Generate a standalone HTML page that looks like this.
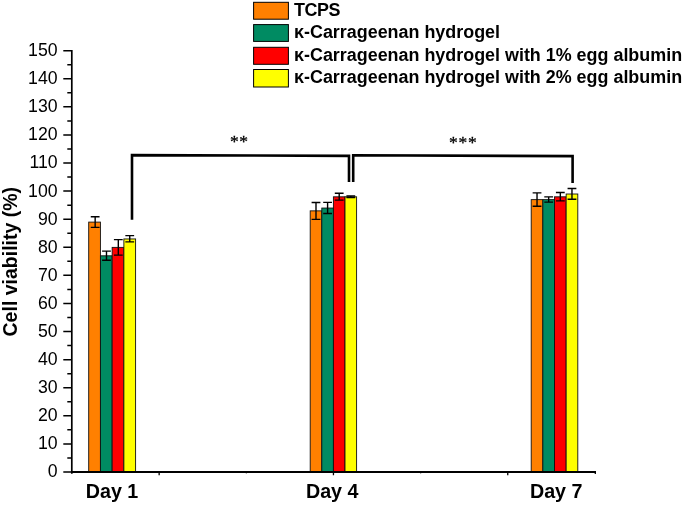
<!DOCTYPE html>
<html><head><meta charset="utf-8"><title>Cell viability</title>
<style>
html,body{margin:0;padding:0;background:#fff;}
body{width:685px;height:505px;overflow:hidden;}
svg{display:block;will-change:transform;}
text{font-family:"Liberation Sans",sans-serif;fill:#000;}
.b{font-weight:bold;}
.st{font-family:"Liberation Serif",serif;}
</style></head><body>
<svg width="685" height="505" viewBox="0 0 685 505">
<rect width="685" height="505" fill="#fff"/>
<rect x="88.70" y="222.10" width="11.72" height="249.90" fill="#FF8000" stroke="#111" stroke-width="0.9"/>
<rect x="100.42" y="255.81" width="11.72" height="216.19" fill="#008B62" stroke="#111" stroke-width="0.9"/>
<rect x="112.15" y="247.38" width="11.72" height="224.62" fill="#FF0000" stroke="#111" stroke-width="0.9"/>
<rect x="123.88" y="238.95" width="11.72" height="233.05" fill="#FFFF00" stroke="#111" stroke-width="0.9"/>
<path d="M90.76 216.82H99.56M90.76 227.38H99.56M95.16 216.82V227.38" stroke="#000" stroke-width="1.4" fill="none"/>
<path d="M102.09 251.10H110.89M102.09 260.31H110.89M106.49 251.10V260.31" stroke="#000" stroke-width="1.4" fill="none"/>
<path d="M113.91 239.63H122.71M113.91 255.13H122.71M118.31 239.63V255.13" stroke="#000" stroke-width="1.4" fill="none"/>
<path d="M125.34 235.66H134.14M125.34 241.84H134.14M129.74 235.66V241.84" stroke="#000" stroke-width="1.4" fill="none"/>
<rect x="310.20" y="210.86" width="11.60" height="261.14" fill="#FF8000" stroke="#111" stroke-width="0.9"/>
<rect x="321.80" y="208.05" width="11.60" height="263.95" fill="#008B62" stroke="#111" stroke-width="0.9"/>
<rect x="333.40" y="196.82" width="11.60" height="275.18" fill="#FF0000" stroke="#111" stroke-width="0.9"/>
<rect x="345.00" y="196.82" width="11.60" height="275.18" fill="#FFFF00" stroke="#111" stroke-width="0.9"/>
<path d="M311.60 202.49H320.40M311.60 219.34H320.40M316.00 202.49V219.34" stroke="#000" stroke-width="1.4" fill="none"/>
<path d="M323.20 202.34H332.00M323.20 213.57H332.00M327.60 202.34V213.57" stroke="#000" stroke-width="1.4" fill="none"/>
<path d="M334.80 193.29H343.60M334.80 200.14H343.60M339.20 193.29V200.14" stroke="#000" stroke-width="1.4" fill="none"/>
<path d="M346.40 195.88H355.20M346.40 197.56H355.20M350.80 195.88V197.56" stroke="#000" stroke-width="1.4" fill="none"/>
<rect x="531.20" y="199.63" width="11.65" height="272.37" fill="#FF8000" stroke="#111" stroke-width="0.9"/>
<rect x="542.85" y="199.63" width="11.65" height="272.37" fill="#008B62" stroke="#111" stroke-width="0.9"/>
<rect x="554.50" y="196.82" width="11.65" height="275.18" fill="#FF0000" stroke="#111" stroke-width="0.9"/>
<rect x="566.15" y="194.01" width="11.65" height="277.99" fill="#FFFF00" stroke="#111" stroke-width="0.9"/>
<path d="M532.63 192.87H541.43M532.63 206.18H541.43M537.03 192.87V206.18" stroke="#000" stroke-width="1.4" fill="none"/>
<path d="M544.27 196.89H553.07M544.27 202.17H553.07M548.67 196.89V202.17" stroke="#000" stroke-width="1.4" fill="none"/>
<path d="M555.93 192.56H564.73M555.93 200.88H564.73M560.33 192.56V200.88" stroke="#000" stroke-width="1.4" fill="none"/>
<path d="M567.57 188.52H576.37M567.57 199.30H576.37M571.97 188.52V199.30" stroke="#000" stroke-width="1.4" fill="none"/>
<path d="M71.8 50V473.7" stroke="#000" stroke-width="1.7" fill="none"/>
<path d="M70.95 472.0H596" stroke="#000" stroke-width="1.9" fill="none"/>
<path d="M63.30 472.00H71.8M67.30 457.95H71.8M63.30 443.91H71.8M67.30 429.87H71.8M63.30 415.82H71.8M67.30 401.77H71.8M63.30 387.73H71.8M67.30 373.69H71.8M63.30 359.64H71.8M67.30 345.60H71.8M63.30 331.55H71.8M67.30 317.50H71.8M63.30 303.46H71.8M67.30 289.41H71.8M63.30 275.37H71.8M67.30 261.32H71.8M63.30 247.28H71.8M67.30 233.23H71.8M63.30 219.19H71.8M67.30 205.14H71.8M63.30 191.10H71.8M67.30 177.06H71.8M63.30 163.01H71.8M67.30 148.96H71.8M63.30 134.92H71.8M67.30 120.88H71.8M63.30 106.83H71.8M67.30 92.78H71.8M63.30 78.74H71.8M67.30 64.69H71.8M63.30 50.65H71.8" stroke="#000" stroke-width="1.5" fill="none"/>
<text x="57.6" y="477.00" font-size="17.7" text-anchor="end">0</text>
<text x="57.6" y="448.97" font-size="17.7" text-anchor="end">10</text>
<text x="57.6" y="420.94" font-size="17.7" text-anchor="end">20</text>
<text x="57.6" y="392.92" font-size="17.7" text-anchor="end">30</text>
<text x="57.6" y="364.89" font-size="17.7" text-anchor="end">40</text>
<text x="57.6" y="336.86" font-size="17.7" text-anchor="end">50</text>
<text x="57.6" y="308.83" font-size="17.7" text-anchor="end">60</text>
<text x="57.6" y="280.81" font-size="17.7" text-anchor="end">70</text>
<text x="57.6" y="252.78" font-size="17.7" text-anchor="end">80</text>
<text x="57.6" y="224.66" font-size="17.7" text-anchor="end">90</text>
<text x="57.6" y="196.54" font-size="17.7" text-anchor="end">100</text>
<text x="57.6" y="168.42" font-size="17.7" text-anchor="end">110</text>
<text x="57.6" y="140.31" font-size="17.7" text-anchor="end">120</text>
<text x="57.6" y="112.19" font-size="17.7" text-anchor="end">130</text>
<text x="57.6" y="84.07" font-size="17.7" text-anchor="end">140</text>
<text x="57.6" y="55.95" font-size="17.7" text-anchor="end">150</text>
<path d="M159.15 472.0v3.3M333.45 472.0v3.3M507.75 472.0v3.3M595.30 472.0v2.0" stroke="#000" stroke-width="1.3" fill="none"/>
<path d="M246.3 472.0v1.7M420.7 472.0v1.7" stroke="#000" stroke-width="1" opacity="0.55" fill="none"/>
<text class="b" x="112.0" y="497.7" font-size="19.7" text-anchor="middle">Day 1</text>
<text class="b" x="332.2" y="497.7" font-size="19.7" text-anchor="middle">Day 4</text>
<text class="b" x="556.2" y="497.7" font-size="19.7" text-anchor="middle">Day 7</text>
<text class="b" transform="translate(17.4 261.7) rotate(-90)" font-size="19.5" text-anchor="middle">Cell viability (%)</text>
<path d="M132 219.8V155.1L349 155.9V182.1" stroke="#000" stroke-width="2.6" fill="none"/>
<path d="M353.2 182.1V155.3L572.6 156.1V183" stroke="#000" stroke-width="2.6" fill="none"/>
<text class="st" x="230.0" y="147.0" font-size="17.5" letter-spacing="0.55" stroke="#000" stroke-width="0.3">**</text>
<text class="st" x="449.1" y="147.7" font-size="17.5" letter-spacing="0.75" stroke="#000" stroke-width="0.3">***</text>
<rect x="253.6" y="2.30" width="34.8" height="16.9" fill="#FF8000" stroke="#000" stroke-width="1"/>
<text class="b" x="294.0" y="15.9" font-size="17.92" letter-spacing="-0.45">TCPS</text>
<rect x="253.6" y="24.60" width="34.8" height="16.8" fill="#008B62" stroke="#000" stroke-width="1"/>
<text class="b" x="294.0" y="38.4" font-size="17.92">κ-Carrageenan hydrogel</text>
<rect x="253.6" y="47.30" width="34.8" height="17.0" fill="#FF0000" stroke="#000" stroke-width="1"/>
<text class="b" x="294.0" y="60.8" font-size="17.92">κ-Carrageenan hydrogel with 1% egg albumin</text>
<rect x="253.6" y="69.50" width="34.8" height="17.5" fill="#FFFF00" stroke="#000" stroke-width="1"/>
<text class="b" x="294.0" y="83.3" font-size="17.92">κ-Carrageenan hydrogel with 2% egg albumin</text>
</svg></body></html>
